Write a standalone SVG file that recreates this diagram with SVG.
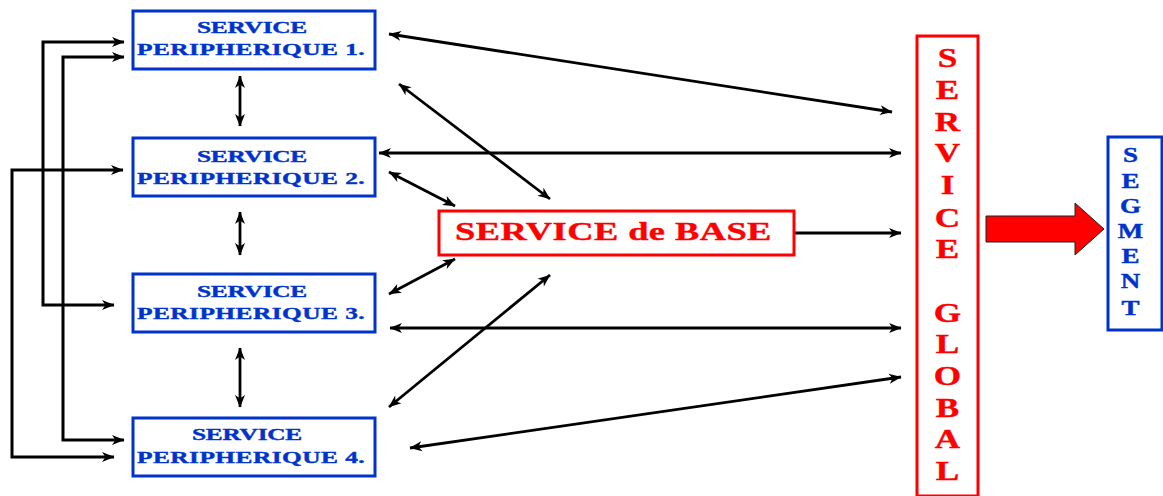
<svg xmlns="http://www.w3.org/2000/svg" width="1163" height="496" viewBox="0 0 1163 496">
<style>
.peri rect{fill:#fff;stroke:#0033cc;stroke-width:3}
.peri text{font-family:"Liberation Serif","Times New Roman",serif;font-weight:bold;font-size:17.5px;fill:#0033cc;stroke:#0033cc;stroke-width:0.4}
.peri text.seg{font-size:20px}
.red rect{fill:#fff;stroke:#ff0000;stroke-width:3}
.red text{font-family:"Liberation Serif","Times New Roman",serif;font-weight:bold;fill:#ff0000;stroke:#ff0000;stroke-width:0.4}
.conn path,.conn line{fill:none;stroke:#000;stroke-width:2.8;marker-end:url(#ah);marker-start:url(#ah)}
.conn .single{marker-start:none}
.conn .thick{stroke-width:3}
</style>
<defs>
<marker id="ah" markerUnits="userSpaceOnUse" viewBox="-13 -6 14 12" markerWidth="14" markerHeight="12" refX="0" refY="0" orient="auto-start-reverse">
<path d="M0.5,0 L-12,-5 L-8.5,0 L-12,5 Z" fill="#000"/>
</marker>
</defs>
<g id="connectors" class="conn">
<path class="thick" d="M124,42 H43 V305 H114"/>
<path class="thick" d="M124,57 H63 V440 H124"/>
<path class="thick" d="M123,170 H12 V457 H114"/>
<line x1="240" y1="76" x2="240" y2="126"/>
<line x1="240" y1="212" x2="240" y2="255"/>
<line x1="240" y1="348" x2="240" y2="407"/>
<line x1="389" y1="34" x2="892" y2="112"/>
<line x1="399" y1="84" x2="550" y2="199"/>
<line x1="379" y1="153" x2="901" y2="153"/>
<line x1="389" y1="172" x2="455" y2="206"/>
<line x1="389" y1="294" x2="455" y2="259"/>
<line x1="390" y1="328" x2="901" y2="328"/>
<line x1="389" y1="407" x2="550" y2="275"/>
<line x1="410" y1="448" x2="901" y2="377"/>
<line class="single" x1="794" y1="233" x2="901" y2="233"/>
</g>
<g id="peri1" class="peri">
<rect x="133" y="11" width="242" height="58"/>
<text transform="translate(197,33) scale(1.45,1)" textLength="76" lengthAdjust="spacing">SERVICE</text>
<text transform="translate(137,55) scale(1.45,1)" textLength="157" lengthAdjust="spacing">PERIPHERIQUE 1.</text>
</g>
<g id="peri2" class="peri">
<rect x="133" y="138" width="242" height="58"/>
<text transform="translate(197,162) scale(1.45,1)" textLength="76" lengthAdjust="spacing">SERVICE</text>
<text transform="translate(137,184) scale(1.45,1)" textLength="157" lengthAdjust="spacing">PERIPHERIQUE 2.</text>
</g>
<g id="peri3" class="peri">
<rect x="133" y="274" width="242" height="58"/>
<text transform="translate(197,297) scale(1.45,1)" textLength="76" lengthAdjust="spacing">SERVICE</text>
<text transform="translate(137,319) scale(1.45,1)" textLength="157" lengthAdjust="spacing">PERIPHERIQUE 3.</text>
</g>
<g id="peri4" class="peri">
<rect x="133" y="418" width="242" height="58"/>
<text transform="translate(192,440) scale(1.45,1)" textLength="76" lengthAdjust="spacing">SERVICE</text>
<text transform="translate(137,463) scale(1.45,1)" textLength="157" lengthAdjust="spacing">PERIPHERIQUE 4.</text>
</g>
<g id="base" class="red">
<rect x="439" y="211" width="355" height="44"/>
<text transform="translate(455,240) scale(1.4,1)" font-size="26" textLength="226" lengthAdjust="spacing">SERVICE de BASE</text>
</g>
<g id="global" class="red">
<rect x="917" y="36" width="61" height="460"/>
<text transform="translate(947.5,0) scale(1.3,1)" font-size="27" text-anchor="middle">
<tspan x="0" y="67">S</tspan><tspan x="0" y="99">E</tspan><tspan x="0" y="131">R</tspan><tspan x="0" y="162">V</tspan><tspan x="0" y="194">I</tspan><tspan x="0" y="227">C</tspan><tspan x="0" y="258">E</tspan><tspan x="0" y="322">G</tspan><tspan x="0" y="353">L</tspan><tspan x="0" y="385">O</tspan><tspan x="0" y="417">B</tspan><tspan x="0" y="448">A</tspan><tspan x="0" y="480">L</tspan>
</text>
</g>
<g id="bigarrow">
<polygon points="986,216 1075,216 1075,203 1104,229 1075,255 1075,242 986,242" fill="#ff0000" stroke="#222" stroke-width="1"/>
</g>
<g id="segment" class="peri">
<rect x="1108" y="137" width="54" height="193"/>
<text class="seg" transform="translate(1130.5,0) scale(1.35,1)" text-anchor="middle">
<tspan x="0" y="162">S</tspan><tspan x="0" y="188">E</tspan><tspan x="0" y="213">G</tspan><tspan x="0" y="238">M</tspan><tspan x="0" y="263">E</tspan><tspan x="0" y="288">N</tspan><tspan x="0" y="315">T</tspan>
</text>
</g>
</svg>
